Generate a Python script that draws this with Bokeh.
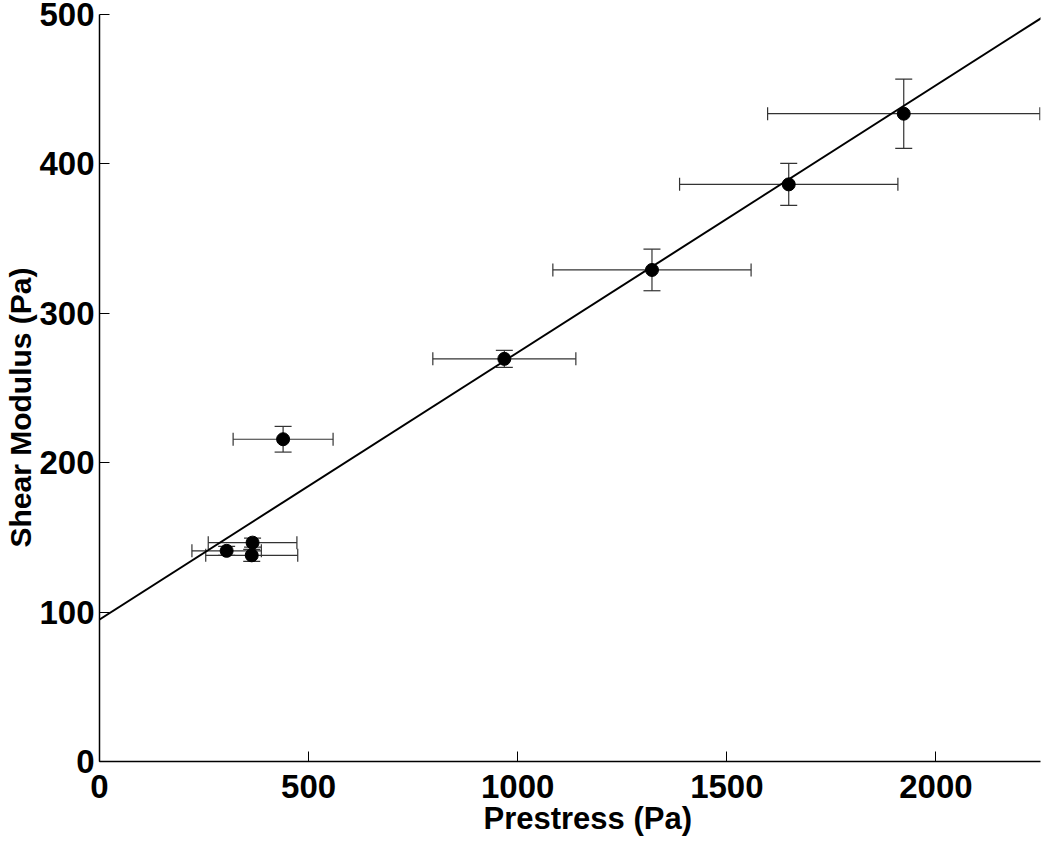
import numpy as np
from bokeh.plotting import figure
from bokeh.models import (ColumnDataSource, Whisker, TeeHead, Slope, Title,
                          Range1d, FixedTicker)
from bokeh.embed import file_html
from bokeh.resources import INLINE

# ---- data ----
prestress = [304, 366, 364, 439, 968, 1321, 1648, 1923]
prestress_err = [83, 106, 110, 119.5, 171, 237, 261, 325.5]
shear_modulus = [141, 146.5, 138, 215.7, 269.5, 329, 386.3, 433.6]
shear_modulus_err = [3, 3, 4, 8.6, 5.7, 13.9, 14.1, 23.2]
fit_slope = 0.1788
fit_intercept = 95.0
x_ticks = [0, 500, 1000, 1500, 2000]
y_ticks = [0, 100, 200, 300, 400, 500]
x_title = "Prestress (Pa)"
y_title = "Shear Modulus (Pa)"

x = np.array(prestress, dtype=float)
xe = np.array(prestress_err, dtype=float)
y = np.array(shear_modulus, dtype=float)
ye = np.array(shear_modulus_err, dtype=float)

src = ColumnDataSource(dict(x=x, y=y, x_lo=x - xe, x_hi=x + xe,
                            y_lo=y - ye, y_hi=y + ye))

FONT = "Liberation Sans"

p = figure(width=1042, height=837, output_backend="svg", toolbar_location=None,
           x_range=Range1d(0, 2250), y_range=Range1d(0, 500),
           min_border_left=99, min_border_right=2, min_border_top=14,
           min_border_bottom=75)
p.outline_line_color = None
p.xgrid.visible = False
p.ygrid.visible = False
p.background_fill_color = "white"
p.border_fill_color = "white"

for ax, ticks in ((p.xaxis, x_ticks), (p.yaxis, y_ticks)):
    ax.ticker = FixedTicker(ticks=ticks)
    ax.axis_line_color = "black"
    ax.axis_line_width = 1.5
    ax.major_tick_in = 10
    ax.major_tick_out = 0
    ax.major_tick_line_color = "black"
    ax.major_tick_line_width = 1
    ax.minor_tick_line_color = None
    ax.major_label_text_font = FONT
    ax.major_label_text_font_style = "bold"
    ax.major_label_text_font_size = "33px"
    ax.major_label_text_color = "black"
p.xaxis.major_label_standoff = 13
p.yaxis.major_label_standoff = 5

# error bars
ERR_COLOR = "#333333"
yw = Whisker(source=src, base="x", lower="y_lo", upper="y_hi", dimension="height",
             line_color=ERR_COLOR, line_width=1.2,
             upper_head=TeeHead(size=17, line_color=ERR_COLOR, line_width=1.2),
             lower_head=TeeHead(size=17, line_color=ERR_COLOR, line_width=1.2))
xw = Whisker(source=src, base="y", lower="x_lo", upper="x_hi", dimension="width",
             line_color=ERR_COLOR, line_width=1.2,
             upper_head=TeeHead(size=13, line_color=ERR_COLOR, line_width=1.2),
             lower_head=TeeHead(size=13, line_color=ERR_COLOR, line_width=1.2))
p.add_layout(xw)
p.add_layout(yw)

# fit line
p.add_layout(Slope(gradient=fit_slope, y_intercept=fit_intercept,
                   line_color="black", line_width=2))

p.scatter("x", "y", source=src, size=13, marker="circle",
          fill_color="black", line_color="black")

# axis titles (offset along the axis as in the reference)
p.add_layout(Title(text=x_title, align="left", offset=384, standoff=0,
                   vertical_align="top", text_font=FONT,
                   text_font_style="bold", text_font_size="31px",
                   text_color="black"), "below")
p.add_layout(Title(text=y_title, align="left", offset=214, standoff=0,
                   vertical_align="bottom", text_font=FONT,
                   text_font_style="bold", text_font_size="30px",
                   text_color="black"), "left")

open("out.html", "w").write(file_html(p, INLINE))
